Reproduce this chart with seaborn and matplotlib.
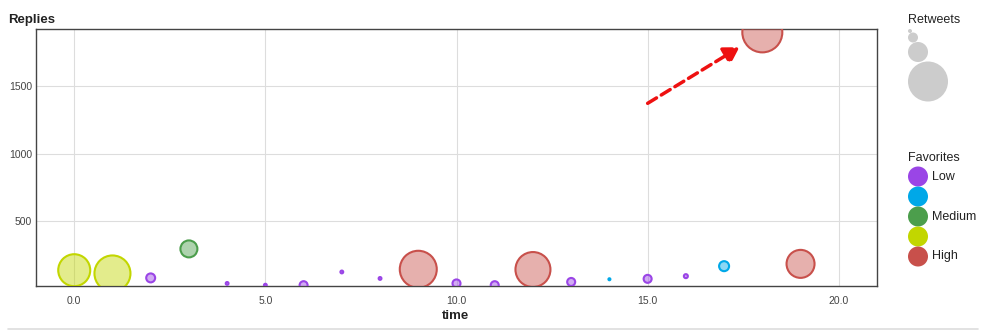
import matplotlib
matplotlib.use("Agg")
import matplotlib.pyplot as plt
import seaborn as sns
import pandas as pd
from matplotlib.patches import Circle
from matplotlib.ticker import FormatStrFormatter

# ---- data ----
time = list(range(20))
replies = [137, 113, 80, 295, 39, 26, 26, 124, 76, 144,
           39, 26, 142, 50, 70, 73, 93, 167, 1900, 184]
retweets = [256, 324, 20, 72, 2, 2, 16, 2, 2, 342,
            16, 16, 306, 16, 1, 16, 4, 25, 400, 196]
favorites = [4, 4, 1, 3, 1, 1, 1, 1, 1, 5,
             1, 1, 5, 1, 2, 1, 1, 2, 5, 5]
fav_levels = [1, 2, 3, 4, 5]
fav_labels = ["Low", "", "Medium", "", "High"]
fav_colors = ["#9a45e6", "#00a8e8", "#4c9e4c", "#c2d600", "#c8504b"]
retweet_legend_values = [4, 25, 100, 400]
x_ticks = [0, 5, 10, 15, 20]
y_ticks = [500, 1000, 1500]
arrow_start = (15.0, 1374)
arrow_end = (17.4, 1790)

df = pd.DataFrame({"time": time, "replies": replies,
                   "retweets": retweets, "favorites": favorites})

W, H = 991, 331
DPI = 100
sns.set_theme(style="white")
plt.rcParams["font.family"] = ["Liberation Sans", "DejaVu Sans"]

fig = plt.figure(figsize=(W / DPI, H / DPI), dpi=DPI)
L, R, T, B = 36, 877, 29, 286
ax = fig.add_axes([L / W, 1 - B / H, (R - L) / W, (B - T) / H])

px2pt = 72 / DPI
smax = (2 * 20 * px2pt) ** 2
sns.scatterplot(data=df, x="time", y="replies", hue="favorites",
                hue_order=fav_levels,
                palette=dict(zip(fav_levels, fav_colors)),
                size="retweets", sizes=(0, smax), size_norm=(0, 400),
                legend=False, linewidth=1.5, ax=ax, zorder=3)
coll = ax.collections[0]
fcs = coll.get_facecolors()
edge = [(c[0], c[1], c[2], 1.0) for c in fcs]
face = [(c[0], c[1], c[2], 0.45) for c in fcs]
coll.set_edgecolors(edge)
coll.set_facecolors(face)

ax.set_xlim(-1, 21)
ax.set_ylim(20, 1925)
ax.set_xticks(x_ticks)
ax.set_yticks(y_ticks)
ax.xaxis.set_major_formatter(FormatStrFormatter("%.1f"))
ax.grid(True, color="#dddddd", lw=0.8)
ax.set_axisbelow(True)
for s in ax.spines.values():
    s.set_visible(True)
    s.set_color("#444444")
    s.set_linewidth(1.0)
ax.tick_params(axis="both", length=0, labelsize=7.5, labelcolor="#444444")
ax.tick_params(axis="x", pad=7)
ax.tick_params(axis="y", pad=3)
ax.set_xlabel("")
ax.set_ylabel("")

ax.annotate("", xy=arrow_end, xytext=arrow_start,
            arrowprops=dict(arrowstyle="-|>,head_length=0.5,head_width=0.3",
                            color="#ee1111", lw=2.5,
                            linestyle=(0, (3, 1.6)), mutation_scale=18,
                            shrinkA=0, shrinkB=0))

# overlay in pixel coordinates for titles and legends
ov = fig.add_axes([0, 0, 1, 1], facecolor="none")
ov.set_xlim(0, W)
ov.set_ylim(H, 0)
ov.axis("off")

ov.text(8, 20, "Replies", fontsize=9.5, fontweight="bold", color="#222222",
        va="center", ha="left")
ov.text(456, 316, "time", fontsize=9.5, fontweight="bold", color="#222222",
        va="center", ha="center")
ov.plot([8, 978], [329, 329], color="#dddddd", lw=1.2)

# Retweets legend
ov.text(908, 20, "Retweets", fontsize=9, color="#222222", va="center", ha="left")
y_top = 29
for v in retweet_legend_values:
    r = v ** 0.5
    ov.add_patch(Circle((908 + r, y_top + r), r, color="#cccccc", lw=0))
    y_top += 2 * r - 0.5
# Favorites legend
ov.text(908, 158, "Favorites", fontsize=9, color="#222222", va="center", ha="left")
for i, (lab, col) in enumerate(zip(fav_labels, fav_colors)):
    cy = 176.5 + i * 20
    ov.add_patch(Circle((918, cy), 10, color=col, lw=0))
    if lab:
        ov.text(932, cy, lab, fontsize=9, color="#222222", va="center", ha="left")

fig.savefig("out.png", dpi=DPI)
